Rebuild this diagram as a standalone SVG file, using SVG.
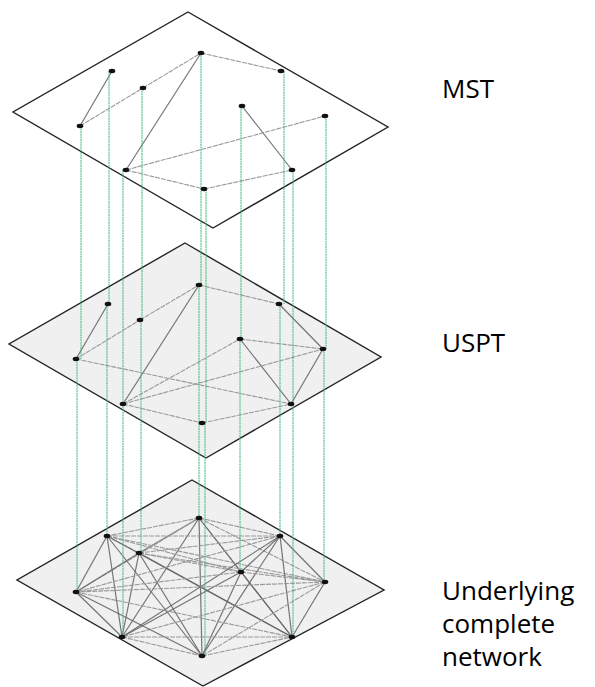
<svg xmlns="http://www.w3.org/2000/svg" width="595" height="687" viewBox="0 0 595 687">
<style>
.plane{stroke:#222;stroke-width:1.4;stroke-linejoin:miter}
.p1{fill:#ffffff}
.p2{fill:#f0f0f0}
.e{stroke:#666;stroke-width:1.2;fill:none;opacity:.9}
.el{stroke:#999;stroke-width:1.1;fill:none;stroke-dasharray:5 1}
.g{stroke:#3cb878;stroke-width:1;stroke-dasharray:2 0.6}
.n{fill:#111}
.lbl{font-family:"Open Sans","Liberation Sans",sans-serif;font-size:26px;fill:#000}
</style>
<g id="planes">
<polygon id="plane-mst" class="plane p1" points="188,12 388,127 213,228 13,112"/>
<polygon id="plane-uspt" class="plane p2" points="185,243 381,357 206,458 9,344"/>
<polygon id="plane-complete" class="plane p2" points="192,480 384,590 203,686 17,580"/>
</g>
<g id="connectors">
<g id="mst-edges">
<line class="e" x1="112" y1="71" x2="80" y2="126"/>
<line class="el" x1="80" y1="126" x2="143" y2="88"/>
<line class="el" x1="143" y1="88" x2="201" y2="53"/>
<line class="e" x1="201" y1="53" x2="126" y2="170"/>
<line class="el" x1="201" y1="53" x2="281" y2="71"/>
<line class="e" x1="242" y1="106" x2="292" y2="170"/>
<line class="el" x1="126" y1="170" x2="325" y2="116"/>
<line class="el" x1="126" y1="170" x2="204" y2="189"/>
<line class="el" x1="204" y1="189" x2="292" y2="170"/>
</g>
<g id="uspt-edges">
<line class="e" x1="108" y1="304" x2="76" y2="359"/>
<line class="el" x1="76" y1="359" x2="140" y2="320"/>
<line class="el" x1="140" y1="320" x2="199" y2="285"/>
<line class="e" x1="199" y1="285" x2="123" y2="404"/>
<line class="el" x1="199" y1="285" x2="279" y2="304"/>
<line class="e" x1="279" y1="304" x2="323" y2="349"/>
<line class="el" x1="240" y1="339" x2="323" y2="349"/>
<line class="e" x1="240" y1="339" x2="291" y2="404"/>
<line class="e" x1="323" y1="349" x2="291" y2="404"/>
<line class="el" x1="76" y1="359" x2="291" y2="404"/>
<line class="el" x1="123" y1="404" x2="240" y2="339"/>
<line class="el" x1="123" y1="404" x2="323" y2="349"/>
<line class="el" x1="123" y1="404" x2="202" y2="423"/>
<line class="el" x1="202" y1="423" x2="291" y2="404"/>
</g>
<g id="complete-edges">
<line class="el" x1="199" y1="518" x2="107" y2="536"/>
<line class="e" x1="199" y1="518" x2="139" y2="553"/>
<line class="el" x1="199" y1="518" x2="280" y2="536"/>
<line class="el" x1="199" y1="518" x2="241" y2="572"/>
<line class="el" x1="199" y1="518" x2="325" y2="582"/>
<line class="el" x1="199" y1="518" x2="76" y2="592"/>
<line class="e" x1="199" y1="518" x2="122" y2="637"/>
<line class="e" x1="199" y1="518" x2="292" y2="637"/>
<line class="e" x1="199" y1="518" x2="202" y2="656"/>
<line class="el" x1="107" y1="536" x2="139" y2="553"/>
<line class="el" x1="107" y1="536" x2="280" y2="536"/>
<line class="el" x1="107" y1="536" x2="241" y2="572"/>
<line class="el" x1="107" y1="536" x2="325" y2="582"/>
<line class="e" x1="107" y1="536" x2="76" y2="592"/>
<line class="e" x1="107" y1="536" x2="122" y2="637"/>
<line class="e" x1="107" y1="536" x2="292" y2="637"/>
<line class="e" x1="107" y1="536" x2="202" y2="656"/>
<line class="el" x1="139" y1="553" x2="280" y2="536"/>
<line class="el" x1="139" y1="553" x2="241" y2="572"/>
<line class="el" x1="139" y1="553" x2="325" y2="582"/>
<line class="e" x1="139" y1="553" x2="76" y2="592"/>
<line class="e" x1="139" y1="553" x2="122" y2="637"/>
<line class="e" x1="139" y1="553" x2="292" y2="637"/>
<line class="e" x1="139" y1="553" x2="202" y2="656"/>
<line class="e" x1="280" y1="536" x2="241" y2="572"/>
<line class="e" x1="280" y1="536" x2="325" y2="582"/>
<line class="el" x1="280" y1="536" x2="76" y2="592"/>
<line class="e" x1="280" y1="536" x2="122" y2="637"/>
<line class="e" x1="280" y1="536" x2="292" y2="637"/>
<line class="e" x1="280" y1="536" x2="202" y2="656"/>
<line class="el" x1="241" y1="572" x2="325" y2="582"/>
<line class="el" x1="241" y1="572" x2="76" y2="592"/>
<line class="e" x1="241" y1="572" x2="122" y2="637"/>
<line class="e" x1="241" y1="572" x2="292" y2="637"/>
<line class="e" x1="241" y1="572" x2="202" y2="656"/>
<line class="el" x1="325" y1="582" x2="76" y2="592"/>
<line class="el" x1="325" y1="582" x2="122" y2="637"/>
<line class="e" x1="325" y1="582" x2="292" y2="637"/>
<line class="el" x1="325" y1="582" x2="202" y2="656"/>
<line class="e" x1="76" y1="592" x2="122" y2="637"/>
<line class="el" x1="76" y1="592" x2="292" y2="637"/>
<line class="e" x1="76" y1="592" x2="202" y2="656"/>
<line class="el" x1="122" y1="637" x2="292" y2="637"/>
<line class="el" x1="122" y1="637" x2="202" y2="656"/>
<line class="el" x1="202" y1="656" x2="292" y2="637"/>
</g>
<g id="verticals">
<line class="g" x1="81" y1="126" x2="81" y2="359"/>
<line class="g" x1="77" y1="359" x2="77" y2="592"/>
<line class="g" x1="109" y1="71" x2="109" y2="304"/>
<line class="g" x1="107" y1="304" x2="107" y2="536"/>
<line class="g" x1="123" y1="170" x2="123" y2="404"/>
<line class="g" x1="123" y1="404" x2="123" y2="637"/>
<line class="g" x1="142" y1="88" x2="142" y2="320"/>
<line class="g" x1="141" y1="320" x2="141" y2="553"/>
<line class="g" x1="201" y1="53" x2="201" y2="285"/>
<line class="g" x1="199" y1="285" x2="199" y2="518"/>
<line class="g" x1="206" y1="189" x2="206" y2="423"/>
<line class="g" x1="205" y1="423" x2="205" y2="656"/>
<line class="g" x1="241" y1="106" x2="241" y2="339"/>
<line class="g" x1="240" y1="339" x2="240" y2="572"/>
<line class="g" x1="284" y1="71" x2="284" y2="304"/>
<line class="g" x1="280" y1="304" x2="280" y2="536"/>
<line class="g" x1="293" y1="170" x2="293" y2="404"/>
<line class="g" x1="293" y1="404" x2="293" y2="637"/>
<line class="g" x1="326" y1="116" x2="326" y2="349"/>
<line class="g" x1="324" y1="349" x2="324" y2="582"/>
</g>
</g>
<g id="nodes-mst">
<g id="mst-A"><ellipse class="n" cx="201" cy="53" rx="3.3" ry="2.2"/></g>
<g id="mst-B"><ellipse class="n" cx="112" cy="71" rx="3.3" ry="2.2"/></g>
<g id="mst-C"><ellipse class="n" cx="143" cy="88" rx="3.3" ry="2.2"/></g>
<g id="mst-D"><ellipse class="n" cx="281" cy="71" rx="3.3" ry="2.2"/></g>
<g id="mst-E"><ellipse class="n" cx="242" cy="106" rx="3.3" ry="2.2"/></g>
<g id="mst-F"><ellipse class="n" cx="325" cy="116" rx="3.3" ry="2.2"/></g>
<g id="mst-G"><ellipse class="n" cx="80" cy="126" rx="3.3" ry="2.2"/></g>
<g id="mst-H"><ellipse class="n" cx="126" cy="170" rx="3.3" ry="2.2"/></g>
<g id="mst-I"><ellipse class="n" cx="292" cy="170" rx="3.3" ry="2.2"/></g>
<g id="mst-J"><ellipse class="n" cx="204" cy="189" rx="3.3" ry="2.2"/></g>
</g>
<g id="nodes-uspt">
<g id="uspt-A"><ellipse class="n" cx="199" cy="285" rx="3.3" ry="2.2"/></g>
<g id="uspt-B"><ellipse class="n" cx="108" cy="304" rx="3.3" ry="2.2"/></g>
<g id="uspt-C"><ellipse class="n" cx="140" cy="320" rx="3.3" ry="2.2"/></g>
<g id="uspt-D"><ellipse class="n" cx="279" cy="304" rx="3.3" ry="2.2"/></g>
<g id="uspt-E"><ellipse class="n" cx="240" cy="339" rx="3.3" ry="2.2"/></g>
<g id="uspt-F"><ellipse class="n" cx="323" cy="349" rx="3.3" ry="2.2"/></g>
<g id="uspt-G"><ellipse class="n" cx="76" cy="359" rx="3.3" ry="2.2"/></g>
<g id="uspt-H"><ellipse class="n" cx="123" cy="404" rx="3.3" ry="2.2"/></g>
<g id="uspt-I"><ellipse class="n" cx="291" cy="404" rx="3.3" ry="2.2"/></g>
<g id="uspt-J"><ellipse class="n" cx="202" cy="423" rx="3.3" ry="2.2"/></g>
</g>
<g id="nodes-complete">
<g id="cn-A"><ellipse class="n" cx="199" cy="518" rx="3.3" ry="2.2"/></g>
<g id="cn-B"><ellipse class="n" cx="107" cy="536" rx="3.3" ry="2.2"/></g>
<g id="cn-C"><ellipse class="n" cx="139" cy="553" rx="3.3" ry="2.2"/></g>
<g id="cn-D"><ellipse class="n" cx="280" cy="536" rx="3.3" ry="2.2"/></g>
<g id="cn-E"><ellipse class="n" cx="241" cy="572" rx="3.3" ry="2.2"/></g>
<g id="cn-F"><ellipse class="n" cx="325" cy="582" rx="3.3" ry="2.2"/></g>
<g id="cn-G"><ellipse class="n" cx="76" cy="592" rx="3.3" ry="2.2"/></g>
<g id="cn-H"><ellipse class="n" cx="122" cy="637" rx="3.3" ry="2.2"/></g>
<g id="cn-I"><ellipse class="n" cx="292" cy="637" rx="3.3" ry="2.2"/></g>
<g id="cn-J"><ellipse class="n" cx="202" cy="656" rx="3.3" ry="2.2"/></g>
</g>
<g id="labels">
<text class="lbl" x="442" y="98">MST</text>
<text class="lbl" x="442" y="352">USPT</text>
<text class="lbl" x="442" y="600">Underlying</text>
<text class="lbl" x="442" y="633">complete</text>
<text class="lbl" x="442" y="666">network</text>
</g>
</svg>
